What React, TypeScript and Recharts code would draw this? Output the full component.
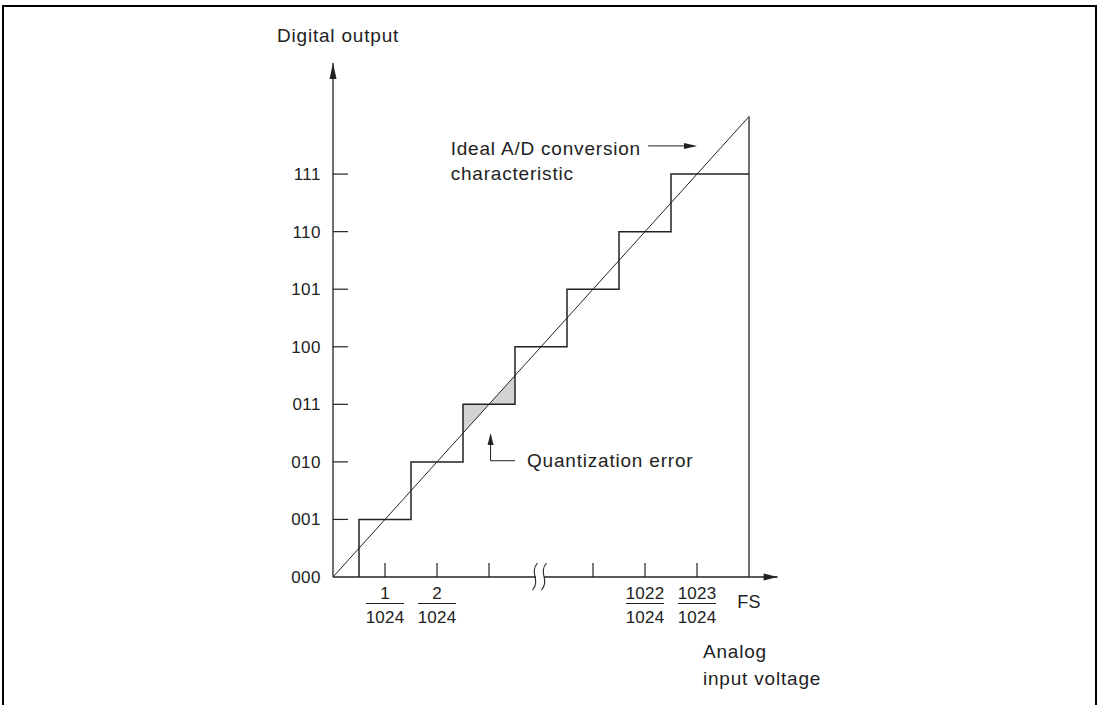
import React from 'react';
import {
  ComposedChart,
  Line,
  Area,
  XAxis,
  YAxis,
  ReferenceLine,
  ReferenceDot,
} from 'recharts';

const FONT = '"Liberation Sans", Arial, Helvetica, sans-serif';
const INK = '#222';

// Digital output codes (y axis)
const codeValues = [0, 1, 2, 3, 4, 5, 6, 7];
const codeLabels = ['000', '001', '010', '011', '100', '101', '110', '111'];

// Analog input ticks (x axis, in LSB units)
const xTickValues = [1, 2, 3, 5, 6, 7, 8];
const xNumerators: Record<number, string> = { 1: '1', 2: '2', 6: '1022', 7: '1023' };
const xDenominator = '1024';
const fullScaleValue = 8;
const fullScaleLabel = 'FS';
const breakAt = 4;

// Staircase: code transition thresholds and the codes reached
const stepThresholds = [0.5, 1.5, 2.5, 3.5, 4.5, 5.5, 6.5];
const stepCodes = [1, 2, 3, 4, 5, 6, 7];

// Ideal conversion line
const idealX = [0, 8];
const idealY = [0, 8];

// Quantization error shading (between ideal line and code 011)
const shadeX = [2.5, 3, 3.5];
const shadeIdeal = [2.5, 3, 3.5];
const shadeCode = [3, 3, 3];

// Build series tables
const stairData: { x: number; y: number }[] = [{ x: stepThresholds[0], y: 0 }];
stepThresholds.forEach((t, i) => {
  if (i > 0) stairData.push({ x: t, y: stepCodes[i - 1] });
  stairData.push({ x: t, y: stepCodes[i] });
});
stairData.push({ x: fullScaleValue, y: stepCodes[stepCodes.length - 1] });

const fsLineData = [
  { x: fullScaleValue, y: 0 },
  { x: fullScaleValue, y: idealY[1] },
];

const idealData = idealX.map((x, i) => ({ x, y: idealY[i] }));

const shadeData = shadeX.map((x, i) => ({
  x,
  r: [Math.min(shadeIdeal[i], shadeCode[i]), Math.max(shadeIdeal[i], shadeCode[i])],
}));

const textStyle = {
  fontFamily: FONT,
  fill: INK,
  fontSize: 19,
  letterSpacing: 0.8,
} as React.CSSProperties;

const YTick = (props: any) => {
  const { x, y, payload } = props;
  const v = payload.value as number;
  return (
    <g>
      {v > 0 && <line x1={x} y1={y} x2={x + 15} y2={y} stroke={INK} strokeWidth={1.2} />}
      <text
        x={x - 12}
        y={y}
        dy={6}
        textAnchor="end"
        style={{ fontFamily: FONT, fill: INK, fontSize: 17, letterSpacing: 0.5 }}
      >
        {codeLabels[v]}
      </text>
    </g>
  );
};

const XTick = (props: any) => {
  const { x, y, payload } = props;
  const v = payload.value as number;
  const num = xNumerators[v];
  const st = { fontFamily: FONT, fill: INK, fontSize: 17, letterSpacing: 0.2 } as React.CSSProperties;
  return (
    <g>
      {v !== fullScaleValue && (
        <line x1={x} y1={y} x2={x} y2={y - 14} stroke={INK} strokeWidth={1.2} />
      )}
      {num && (
        <g>
          <text x={x} y={y + 22} textAnchor="middle" style={st}>
            {num}
          </text>
          <line x1={x - 19} y1={y + 26.5} x2={x + 19} y2={y + 26.5} stroke={INK} strokeWidth={1} />
          <text x={x} y={y + 46} textAnchor="middle" style={st}>
            {xDenominator}
          </text>
        </g>
      )}
      {v === fullScaleValue && (
        <text x={x} y={y + 31} textAnchor="middle" style={{ ...st, fontSize: 18 }}>
          {fullScaleLabel}
        </text>
      )}
    </g>
  );
};

const textAt = (lines: string[], anchor: 'start' | 'middle' | 'end' = 'start', lineGap = 25) =>
  (p: any) => (
    <text x={p.cx} y={p.cy} textAnchor={anchor} style={textStyle}>
      {lines.map((l, i) => (
        <tspan key={i} x={p.cx} dy={i === 0 ? 0 : lineGap}>
          {l}
        </tspan>
      ))}
    </text>
  );

const upArrow = (len: number, half: number) => (p: any) => (
  <polygon
    points={`${p.cx},${p.cy} ${p.cx - half},${p.cy + len} ${p.cx + half},${p.cy + len}`}
    fill={INK}
  />
);

const rightArrow = (len: number, half: number) => (p: any) => (
  <polygon
    points={`${p.cx},${p.cy} ${p.cx - len},${p.cy - half} ${p.cx - len},${p.cy + half}`}
    fill={INK}
  />
);

const breakMark = (p: any) => {
  const { cx, cy } = p;
  const s = (sx: number) =>
    `M${sx + 2.5},${cy - 14} C${sx - 6},${cy - 4} ${sx + 6},${cy + 3} ${sx - 2.5},${cy + 13}`;
  return (
    <g>
      <rect x={cx - 5} y={cy - 2} width={8} height={4} fill="#fff" />
      <path d={s(cx - 6)} stroke={INK} strokeWidth={1.1} fill="none" />
      <path d={s(cx + 3)} stroke={INK} strokeWidth={1.1} fill="none" />
    </g>
  );
};

export default function App() {
  return (
    <div
      style={{
        position: 'absolute',
        left: 0,
        top: 0,
        width: 1102,
        height: 705,
        overflow: 'hidden',
        background: '#fff',
      }}
    >
      <div
        style={{
          position: 'absolute',
          left: 2,
          top: 5,
          width: 1095,
          height: 760,
          boxSizing: 'border-box',
          border: '2px solid #000',
          borderBottom: 'none',
        }}
      />
      <div style={{ position: 'absolute', left: 0, top: 0 }}>
        <ComposedChart
          width={1102}
          height={705}
          margin={{ top: 63, right: 324.4, bottom: 0, left: 273 }}
        >
          <XAxis
            dataKey="x"
            type="number"
            domain={[0, 8.55]}
            allowDataOverflow
            ticks={xTickValues}
            interval={0}
            height={128}
            tickSize={0}
            tickMargin={0}
            tickLine={false}
            axisLine={{ stroke: INK, strokeWidth: 1.3 }}
            tick={<XTick />}
          />
          <YAxis
            type="number"
            domain={[0, 8.93]}
            allowDataOverflow
            ticks={codeValues}
            interval={0}
            width={60}
            tickSize={0}
            tickMargin={0}
            tickLine={false}
            axisLine={{ stroke: INK, strokeWidth: 1.3 }}
            tick={<YTick />}
          />
          <Area
            data={shadeData}
            dataKey="r"
            type="linear"
            stroke="none"
            fill="#d3d3d3"
            fillOpacity={1}
            isAnimationActive={false}
            activeDot={false}
            dot={false}
          />
          <Line
            data={idealData}
            dataKey="y"
            type="linear"
            stroke={INK}
            strokeWidth={1}
            dot={false}
            activeDot={false}
            isAnimationActive={false}
          />
          <Line
            data={stairData}
            dataKey="y"
            type="linear"
            stroke={INK}
            strokeWidth={1.5}
            dot={false}
            activeDot={false}
            isAnimationActive={false}
          />
          <Line
            data={fsLineData}
            dataKey="y"
            type="linear"
            stroke={INK}
            strokeWidth={1.3}
            dot={false}
            activeDot={false}
            isAnimationActive={false}
          />

          {/* Axis arrowheads */}
          <ReferenceDot x={0} y={8.93} r={3} ifOverflow="visible" shape={upArrow(16, 3.5)} />
          <ReferenceDot x={8.55} y={0} r={3} ifOverflow="visible" shape={rightArrow(14, 3.5)} />
          <ReferenceDot x={breakAt} y={0} r={3} ifOverflow="visible" shape={breakMark} />

          {/* Ideal characteristic annotation */}
          <ReferenceLine
            segment={[
              { x: 6.06, y: 7.49 },
              { x: 6.95, y: 7.49 },
            ]}
            stroke={INK}
            strokeWidth={1}
            ifOverflow="visible"
          />
          <ReferenceDot x={7.0} y={7.49} r={3} ifOverflow="visible" shape={rightArrow(13, 3)} />
          <ReferenceDot
            x={2.263}
            y={7.335}
            r={3}
            ifOverflow="visible"
            shape={textAt(['Ideal A/D conversion', 'characteristic'])}
          />

          {/* Quantization error annotation */}
          <ReferenceLine
            segment={[
              { x: 3.03, y: 2.02 },
              { x: 3.03, y: 2.45 },
            ]}
            stroke={INK}
            strokeWidth={1}
            ifOverflow="visible"
          />
          <ReferenceLine
            segment={[
              { x: 3.03, y: 2.02 },
              { x: 3.5, y: 2.02 },
            ]}
            stroke={INK}
            strokeWidth={1}
            ifOverflow="visible"
          />
          <ReferenceDot x={3.03} y={2.5} r={3} ifOverflow="visible" shape={upArrow(12, 3)} />
          <ReferenceDot
            x={3.73}
            y={1.917}
            r={3}
            ifOverflow="visible"
            shape={textAt(['Quantization error'])}
          />

          {/* Axis titles */}
          <ReferenceDot
            x={-1.077}
            y={9.3}
            r={3}
            ifOverflow="visible"
            shape={textAt(['Digital output'])}
          />
          <ReferenceDot
            x={7.115}
            y={-1.408}
            r={3}
            ifOverflow="visible"
            shape={textAt(['Analog', 'input voltage'], 'start', 27)}
          />
        </ComposedChart>
      </div>
    </div>
  );
}
